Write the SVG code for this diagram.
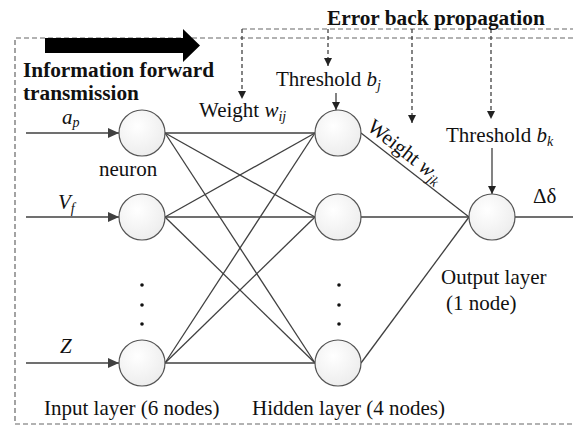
<svg xmlns="http://www.w3.org/2000/svg" width="573" height="425" viewBox="0 0 573 425">
<defs>
<radialGradient id="g" cx="0.4" cy="0.35" r="0.7">
<stop offset="0" stop-color="#ffffff"/>
<stop offset="1" stop-color="#ececec"/>
</radialGradient>
<marker id="ah" markerUnits="userSpaceOnUse" markerWidth="12" markerHeight="10" refX="11" refY="5" orient="auto">
<path d="M0,0 L11,5 L0,10 Z" fill="#404040"/>
</marker>
<marker id="sh" markerUnits="userSpaceOnUse" markerWidth="8" markerHeight="10" refX="8" refY="4" orient="auto">
<path d="M0,0 L8,4 L0,8 Z" fill="#222"/>
</marker>
</defs>
<style>
text{font-family:"Liberation Serif","Times New Roman",serif;font-size:21px;fill:#111}
.b{font-weight:bold;font-size:21.3px}
.i{font-style:italic}
.sub{font-size:14px;font-style:italic}
.node{fill:url(#g);stroke:#555;stroke-width:1.2}
.ln{stroke:#404040;stroke-width:1.3;fill:none}
.dash{stroke:#666;stroke-width:1.2;stroke-dasharray:5,3;fill:none}
.dash2{stroke:#333;stroke-width:1.2;stroke-dasharray:4,3;fill:none}
</style>
<g id="frame">
<path class="dash" d="M573,38 L15,38 L15,424 L573,424"/>
<path class="dash" d="M242,29 L573,29"/>
</g>
<g id="forward-arrow">
<path d="M45,38 L183,38 L183,29 L200,45.5 L183,62 L183,53 L45,53 Z" fill="#000"/>
</g>
<g id="connectors">
<line class="ln" x1="26" y1="133" x2="119" y2="133" marker-end="url(#ah)"/>
<line class="ln" x1="26" y1="217" x2="119" y2="217" marker-end="url(#ah)"/>
<line class="ln" x1="26" y1="363" x2="119" y2="363" marker-end="url(#ah)"/>
<line class="ln" x1="165" y1="133" x2="315" y2="133"/>
<line class="ln" x1="165" y1="133" x2="315" y2="217"/>
<line class="ln" x1="165" y1="133" x2="315" y2="363"/>
<line class="ln" x1="165" y1="217" x2="315" y2="133"/>
<line class="ln" x1="165" y1="217" x2="315" y2="217"/>
<line class="ln" x1="165" y1="217" x2="315" y2="363"/>
<line class="ln" x1="165" y1="363" x2="315" y2="133"/>
<line class="ln" x1="165" y1="363" x2="315" y2="217"/>
<line class="ln" x1="165" y1="363" x2="315" y2="363"/>
<line class="ln" x1="361" y1="133" x2="469" y2="217"/>
<line class="ln" x1="361" y1="217" x2="469" y2="217"/>
<line class="ln" x1="361" y1="363" x2="469" y2="217"/>
<line class="ln" x1="515" y1="217" x2="573" y2="217"/>
<line class="ln" x1="336" y1="93" x2="336" y2="110" marker-end="url(#sh)"/>
<line class="ln" x1="492" y1="148" x2="492" y2="194" marker-end="url(#sh)"/>
<line class="dash2" x1="242" y1="29" x2="242" y2="99" marker-end="url(#sh)"/>
<line class="dash2" x1="328" y1="29" x2="328" y2="66" marker-end="url(#sh)"/>
<line class="dash2" x1="412" y1="29" x2="412" y2="123" marker-end="url(#sh)"/>
<line class="dash2" x1="491" y1="29" x2="491" y2="119" marker-end="url(#sh)"/>
</g>
<g id="input-nodes">
<circle id="in1" class="node" cx="142" cy="133" r="23"/>
<circle id="in2" class="node" cx="142" cy="217" r="23"/>
<circle id="in3" class="node" cx="142" cy="363" r="23"/>
<circle cx="142" cy="285" r="1.8" fill="#111"/>
<circle cx="142" cy="305" r="1.8" fill="#111"/>
<circle cx="142" cy="324" r="1.8" fill="#111"/>
</g>
<g id="hidden-nodes">
<circle id="h1" class="node" cx="338" cy="133" r="23"/>
<circle id="h2" class="node" cx="338" cy="217" r="23"/>
<circle id="h3" class="node" cx="338" cy="363" r="23"/>
<circle cx="339" cy="285" r="1.8" fill="#111"/>
<circle cx="339" cy="305" r="1.8" fill="#111"/>
<circle cx="339" cy="324" r="1.8" fill="#111"/>
</g>
<g id="output-node">
<circle id="o1" class="node" cx="492" cy="217" r="23"/>
</g>
<g id="labels">
<text class="b" x="327" y="25">Error back propagation</text>
<text class="b" x="23" y="76.5">Information forward</text>
<text class="b" x="23" y="100">transmission</text>
<text class="i" x="62" y="123.5">a<tspan class="sub" dy="3.5">p</tspan></text>
<text class="i" x="58" y="209">V<tspan class="sub" dy="4">f</tspan></text>
<text class="i" x="60" y="353">Z</text>
<text x="99" y="176">neuron</text>
<text x="199" y="117">Weight <tspan class="i">w</tspan><tspan class="sub" dy="4">ij</tspan></text>
<text x="276" y="86">Threshold <tspan class="i">b</tspan><tspan class="sub" dy="4">j</tspan></text>
<text x="446" y="142">Threshold <tspan class="i">b</tspan><tspan class="sub" dy="4">k</tspan></text>
<text transform="translate(366,129) rotate(38)">Weight <tspan class="i">w</tspan><tspan class="sub" dy="4">jk</tspan></text>
<text x="533" y="203">Δδ</text>
<text x="441" y="284">Output layer</text>
<text x="446" y="310">(1 node)</text>
<text x="44" y="415">Input layer (6 nodes)</text>
<text x="252" y="415">Hidden layer (4 nodes)</text>
</g>
</svg>
